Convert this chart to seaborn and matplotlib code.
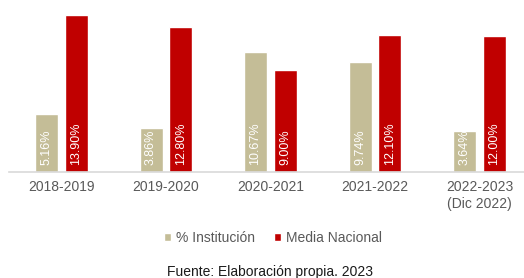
import pandas as pd
import matplotlib
matplotlib.use("Agg")
import matplotlib.pyplot as plt
import seaborn as sns

# Chart data
periods = ["2018-2019", "2019-2020", "2020-2021", "2021-2022", "2022-2023\n(Dic 2022)"]
institucion = [5.16, 3.86, 10.67, 9.74, 3.64]
media_nacional = [13.90, 12.80, 9.00, 12.10, 12.00]
series_names = ["% Institución", "Media Nacional"]
colors = ["#C4BD97", "#C00000"]

# Build long table for seaborn
df = pd.DataFrame({
    "periodo": periods * 2,
    "valor": institucion + media_nacional,
    "serie": [series_names[0]] * len(periods) + [series_names[1]] * len(periods),
})

sns.set_style("white")
plt.rcParams["font.family"] = ["Liberation Sans", "DejaVu Sans"]

fig = plt.figure(figsize=(5.24, 2.78), dpi=100)
ax = fig.add_axes([9.25 / 524, (278 - 172) / 278, 522.5 / 524, 169.4 / 278])

sns.barplot(data=df, x="periodo", y="valor", hue="serie", palette=colors,
            saturation=1, width=0.574, gap=0.233, ax=ax, legend=True)

ax.set_xlim(-0.5, 4.5)
ax.set_ylim(0, 15)

# Value labels inside the bars, at the base
for container in ax.containers:
    for bar in container:
        h = bar.get_height()
        ax.text(bar.get_x() + bar.get_width() / 2, 0.6, f"{h:.2f}%",
                rotation=90, ha="center", va="bottom", color="white", fontsize=9)

# Axis styling
for side in ["left", "right", "top"]:
    ax.spines[side].set_visible(False)
ax.spines["bottom"].set_color("#D9D9D9")
ax.spines["bottom"].set_linewidth(1.2)
ax.set_yticks([])
ax.set_xlabel("")
ax.set_ylabel("")
ax.tick_params(axis="x", length=0, pad=6, labelsize=10, labelcolor="#595959")

# Legend below the chart
handles, labels = ax.get_legend_handles_labels()
ax.get_legend().remove()
fig.legend(handles, labels, loc="center", bbox_to_anchor=(273 / 524, 1 - 238 / 278),
           ncol=2, frameon=False, fontsize=10, labelcolor="#595959",
           handlelength=0.5, handleheight=0.5, handletextpad=0.35, columnspacing=1.4)

fig.text(270 / 524, 1 - 272 / 278, "Fuente: Elaboración propia. 2023",
         ha="center", va="center", fontsize=10, color="#1a1a1a")

fig.savefig("out.png", dpi=100)
